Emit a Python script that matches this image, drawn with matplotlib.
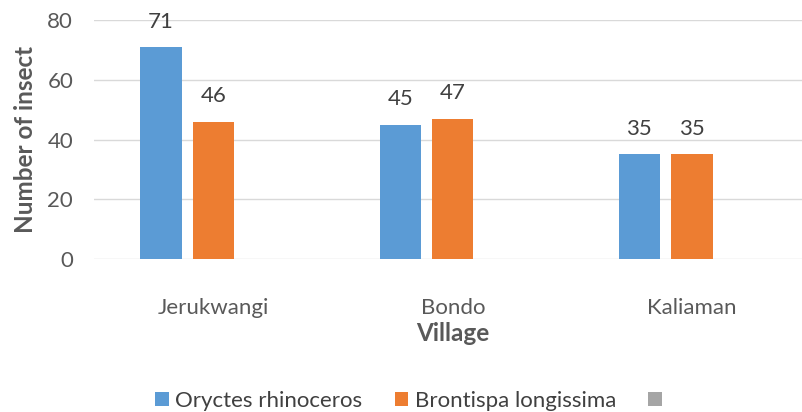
import numpy as np
import matplotlib
matplotlib.use("Agg")
import matplotlib.pyplot as plt

villages = ["Jerukwangi", "Bondo", "Kaliaman"]
series_names = ["Oryctes rhinoceros", "Brontispa longissima", ""]
oryctes = [71, 45, 35]
brontispa = [46, 47, 35]
third = [0, 0, 0]

colors = ["#5B9BD5", "#ED7D31", "#A5A5A5"]
plt.rcParams['font.family'] = ['Lato', 'DejaVu Sans']

fig = plt.figure(figsize=(8.03, 4.12), dpi=100)
ax = fig.add_axes([94 / 803, 153 / 412, 1 - 94 / 803, 239 / 412])

x = np.arange(len(villages))
width = 0.172
offsets = [-0.22, 0.0, 0.22]
allData = [oryctes, brontispa, third]
handles = []
for i in range(3):
    bars = ax.bar(x + offsets[i], allData[i], width, color=colors[i],
                  label=series_names[i], zorder=3)
    handles.append(bars)
    if i < 2:
        for xi, v in zip(x + offsets[i], allData[i]):
            ax.annotate(str(v), (xi, v), xytext=(0, 11), textcoords="offset points",
                        ha="center", va="bottom", fontsize=16, color="#404040")

ax.set_ylim(0, 80)
ax.set_yticks([0, 20, 40, 60, 80])
ax.set_xlim(-0.5, 2.464)
ax.set_xticks(x)
ax.set_xticklabels(villages)
ax.yaxis.grid(True, color="#D9D9D9", linewidth=1, zorder=0)
for s in ax.spines.values():
    s.set_visible(False)
ax.tick_params(axis="both", length=0, labelsize=16, colors="#595959")
ax.tick_params(axis="x", pad=28)
ax.tick_params(axis="y", pad=15)

ax.set_xlabel("Village", fontsize=17.5, fontweight="bold", color="#595959")
ax.xaxis.set_label_coords(0.506, -0.265)
ax.set_ylabel("Number of insect", fontsize=17.5, fontweight="bold", color="#595959")
ax.yaxis.set_label_coords(-0.08, 0.5)

fig.legend(handles, series_names, loc="center", bbox_to_anchor=(0.513, 0.027), ncol=3,
           frameon=False, fontsize=16, handlelength=0.6, handleheight=0.6,
           handletextpad=0.3, columnspacing=1.45, labelcolor="#404040")

fig.savefig("out.png", dpi=100)
